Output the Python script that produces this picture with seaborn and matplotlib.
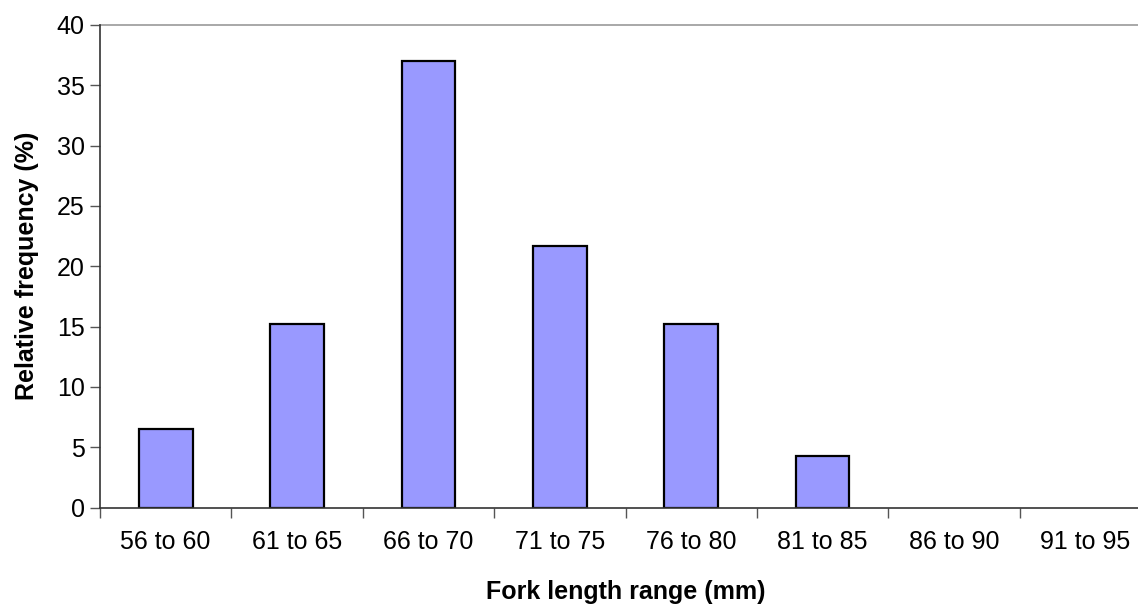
import matplotlib
matplotlib.use("Agg")
import matplotlib.pyplot as plt
import numpy as np
import pandas as pd
import seaborn as sns

# Fork length classes and their relative frequencies (%)
length_ranges = ["56 to 60", "61 to 65", "66 to 70", "71 to 75",
                 "76 to 80", "81 to 85", "86 to 90", "91 to 95"]
rel_freq = [6.5, 15.2, 37.0, 21.7, 15.2, 4.3, 0.0, 0.0]

df = pd.DataFrame({"range": length_ranges, "freq": rel_freq})

sns.set_theme(style="white")
plt.rcParams["font.family"] = ["Liberation Sans", "DejaVu Sans"]
plt.rcParams["text.color"] = "black"
plt.rcParams["axes.labelcolor"] = "black"

fig = plt.figure(figsize=(11.38, 6.06), dpi=100)
W, H = 1138, 606
ax = fig.add_axes([100 / W, (H - 507.5) / H, 1051 / W, 482.5 / H])

sns.barplot(data=df, x="range", y="freq", order=length_ranges, ax=ax,
            color="#9999FF", saturation=1, width=0.41,
            edgecolor="black", linewidth=1.6)

# empty classes leave no outline above the baseline
for patch, v in zip(ax.patches, rel_freq):
    if v == 0:
        patch.set_visible(False)

ax.set_ylim(0, 40)
ax.set_xlim(-0.5, len(length_ranges) - 0.5)
ax.set_yticks(np.arange(0, 41, 5))

# category boundaries carry the tick marks
ax.set_xticks(np.arange(-0.5, len(length_ranges), 1.0), minor=True)
ax.tick_params(axis="x", which="major", length=0, pad=16, labelsize=18,
               colors="black")
ax.tick_params(axis="x", which="minor", length=7, width=1, color="#555555",
               direction="out", bottom=True)
ax.tick_params(axis="y", which="major", length=7, width=1, color="#555555",
               direction="out", left=True, pad=4, labelsize=18,
               labelcolor="black")

for side in ("left", "bottom"):
    ax.spines[side].set_color("#333333")
    ax.spines[side].set_linewidth(1.2)
    ax.spines[side].set_zorder(5)
ax.spines["top"].set_color("#999999")
ax.spines["top"].set_linewidth(1.2)
ax.spines["right"].set_visible(False)

ax.set_xlabel("Fork length range (mm)", fontsize=18, fontweight="bold",
              labelpad=19, color="black")
ax.set_ylabel("Relative frequency (%)", fontsize=18, fontweight="bold",
              labelpad=13, color="black")

fig.savefig("out.png", dpi=100)
